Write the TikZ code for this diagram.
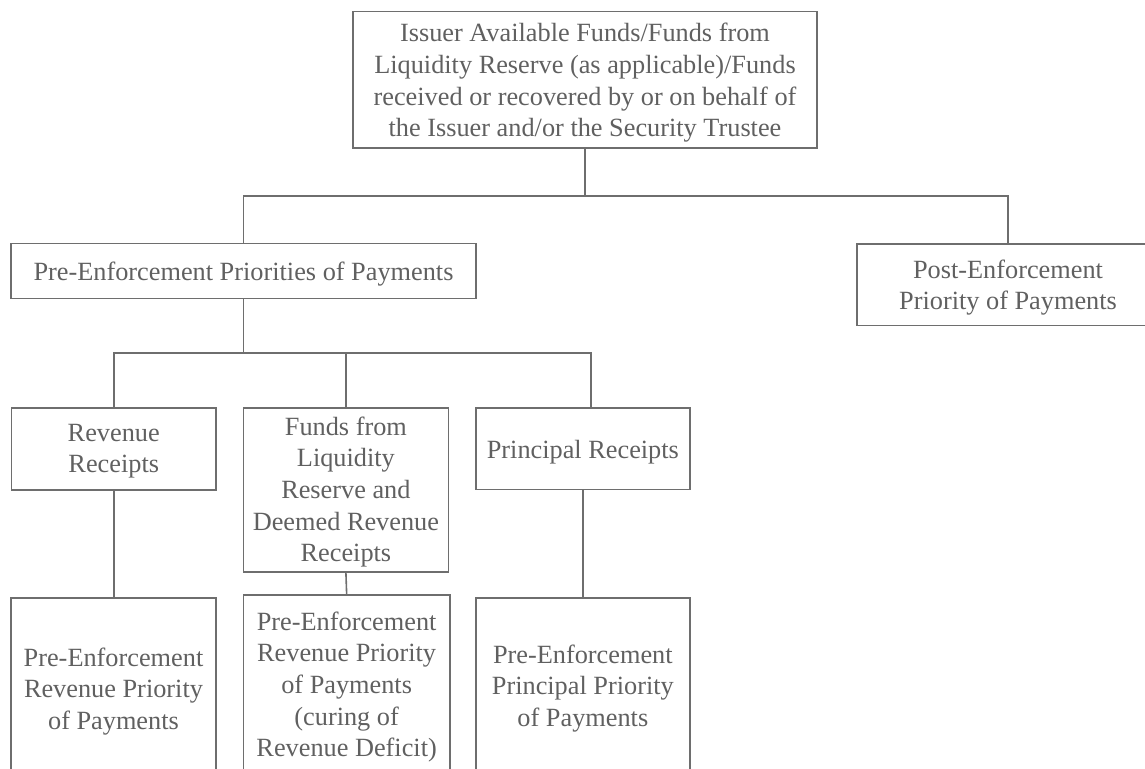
\documentclass[tikz,border=0pt]{standalone}
\usepackage{fontspec}
\setmainfont{Liberation Serif}
\definecolor{lineC}{RGB}{110,110,110}
\definecolor{textC}{RGB}{96,96,96}
\begin{document}
\begin{tikzpicture}[x=1pt,y=-1pt,
  box/.style={draw=lineC, line width=1.6pt, inner sep=0pt},
  txt/.style={text=textC, align=center, inner sep=0pt, font=\fontsize{26.3}{31.6}\selectfont},
  conn/.style={draw=lineC, line width=1.6pt}]
\useasboundingbox (0,0) rectangle (1145,768);
\clip (0,0) rectangle (1145,768);

% boxes
\node[box, minimum width=464pt, minimum height=136pt] (top) at (585,79.7) {};
\node[box, minimum width=465pt, minimum height=55pt] (pre) at (243.5,270.8) {};
\node[box, minimum width=302pt, minimum height=81.5pt] (post) at (1008,284.75) {};
\node[box, minimum width=204.5pt, minimum height=82pt] (rev) at (113.75,449) {};
\node[box, minimum width=205.2pt, minimum height=163.7pt] (funds) at (345.9,489.85) {};
\node[box, minimum width=214.3pt, minimum height=81.6pt] (princ) at (582.85,448.5) {};
\node[box, minimum width=205pt, minimum height=181.3pt] (bl) at (113.5,688.35) {};
\node[box, minimum width=206.7pt, minimum height=178pt] (bm) at (346.65,684) {};
\node[box, minimum width=214.3pt, minimum height=175.3pt] (br) at (582.85,685.35) {};

% texts
\node[txt] (t-top) at (585,82.95) {Issuer Available Funds/Funds from\\Liquidity Reserve (as applicable)/Funds\\received or recovered by or on behalf of\\the Issuer and/or the Security Trustee};
\node[txt] (t-pre) at (243.5,273.85) {Pre-Enforcement Priorities of Payments};
\node[txt] (t-post) at (1008,287.6) {Post-Enforcement\\Priority of Payments};
\node[txt] (t-rev) at (113.75,451.35) {Revenue\\Receipts};
\node[txt] (t-funds) at (345.9,492.05) {Funds from\\Liquidity\\Reserve and\\Deemed Revenue\\Receipts};
\node[txt] (t-princ) at (582.85,452.15) {Principal Receipts};
\node[txt] (t-bl) at (113.5,691.45) {Pre-Enforcement\\Revenue Priority\\of Payments};
\node[txt] (t-bm) at (346.65,687.05) {Pre-Enforcement\\Revenue Priority\\of Payments\\(curing of\\Revenue Deficit)};
\node[txt] (t-br) at (582.85,688.45) {Pre-Enforcement\\Principal Priority\\of Payments};

% connectors
\coordinate (j1) at (585,196);
\coordinate (j2) at (243.5,352.7);
\draw[conn] (top.south) -- (j1);
\draw[conn] (pre.north) |- (j1) -| (post.north);
\draw[conn] (pre.south) -- (j2);
\draw[conn] (rev.north) |- (j2) -| ([xshift=8pt]princ.north);
\draw[conn] (funds.north) -- (funds.north |- j2);
\draw[conn] (rev.south) -- (rev.south |- bl.north);
\draw[conn] (funds.south) -- (bm.north);
\draw[conn] (princ.south) -- (br.north);
\end{tikzpicture}
\end{document}
